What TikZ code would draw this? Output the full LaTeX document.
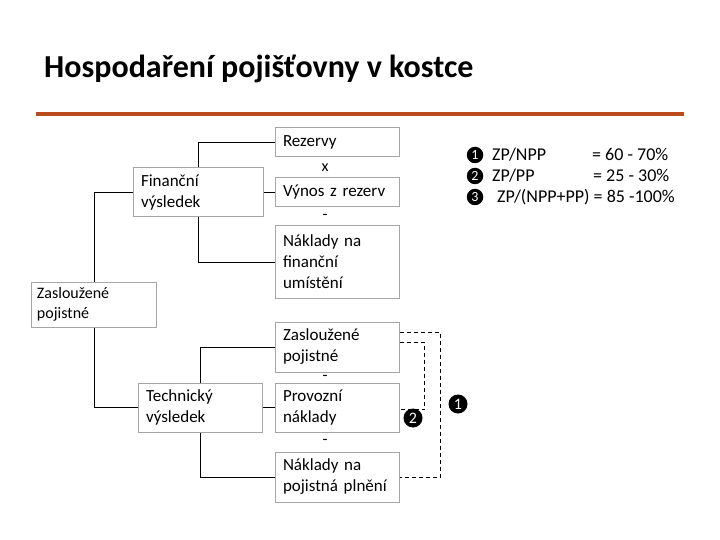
\documentclass[tikz,border=0pt]{standalone}
\usepackage{fontspec}
\setmainfont{Carlito}
\usetikzlibrary{positioning,calc}
\definecolor{rust}{HTML}{BB4A1C}
\definecolor{boxgray}{HTML}{A6A6A6}

\begin{document}
\begin{tikzpicture}[x=1bp,y=-1bp,
  box/.style={draw=boxgray,line width=1bp,align=left,text width=108bp,inner xsep=8bp,inner ysep=0pt,
    minimum width=124bp,font=\fontsize{17bp}{21bp}\selectfont},
  op/.style={inner sep=0pt,font=\fontsize{16bp}{18bp}\selectfont},
  numdot/.style={circle,fill=black,text=white,inner sep=0pt,minimum size=19bp,font=\fontsize{16bp}{16bp}\selectfont},
  smalldot/.style={numdot,minimum size=16.5bp,font=\fontsize{14bp}{14bp}\selectfont},
  legend/.style={anchor=base west,inner sep=0pt,font=\fontsize{18bp}{20bp}\selectfont}]
\useasboundingbox[fill=white] (0,0) rectangle (720,540);
\node[anchor=base west,inner sep=0pt,font=\bfseries\fontsize{32bp}{36bp}\selectfont] (title) at (44,78) {Hospodaření pojišťovny v kostce};
\draw[rust,line width=4bp] (36,114) -- (684,114);
% financni cast
\node[box,minimum height=29bp] (rez) at (337,142.5) {Rezervy};
\node[box,minimum height=29bp] (vyn) at (337,192.5) {Výnos z rezerv};
\node[box,minimum height=72bp] (nak) at (337,262) {Náklady na\\finanční\\umístění};
\node[box,text width=114bp,minimum width=130bp,minimum height=49bp] (fin) at (198,192.5) {Finanční\\výsledek};
\node[box,text width=114bp,inner xsep=5bp,minimum height=45bp,font=\fontsize{16bp}{20bp}\selectfont] (zp1) at (94,304.5) {Zasloužené\\pojistné};
% technicka cast
\node[box,minimum height=50bp] (zp2) at (337,347) {Zasloužené\\pojistné};
\node[box,minimum height=49bp] (prov) at (337,407.5) {Provozní\\náklady};
\node[box,minimum height=50bp] (pln) at (337,477) {Náklady na\\pojistná plnění};
\node[box,minimum height=49bp] (tech) at (200,407.5) {Technický\\výsledek};
% operatory
\node[op] (o1) at ($(rez.south)!0.5!(vyn.north)+(-12,0)$) {x};
\node[op] (o2) at ($(vyn.south)!0.5!(nak.north)+(-12,0)$) {-};
\node[op] (o3) at ($(zp2.south)!0.5!(prov.north)+(-12,0)$) {-};
\node[op] (o4) at ($(prov.south)!0.5!(pln.north)+(-12,0)$) {-};
% spojnice
\draw (fin.north) |- (rez.west);
\draw (fin.east) -- (vyn.west);
\draw (fin.south) |- (nak.west);
\draw (zp1.north) |- (fin.west);
\draw (zp1.south) |- (tech.west);
\draw (tech.north) |- (zp2.west);
\draw (tech.east) -- (prov.west);
\draw (tech.south) |- (pln.west);
\draw[dash pattern=on 4bp off 3bp] ([yshift=-11bp]zp2.north east) -- ++(41,0) |- (pln.east);
\draw[dash pattern=on 4bp off 3bp] ([yshift=-21bp]zp2.north east) -- ++(25,0) |- ([yshift=-2bp]prov.east);
\node[numdot] (n2) at (413,418) {2};
\node[numdot] (n1) at (458,404) {1};
% legenda
\node[smalldot] (l1) at (475,155) {1};
\node[smalldot] (l2) at (475,176) {2};
\node[smalldot] (l3) at (475,197) {3};
\node[legend] (t1) at (492,161) {ZP/NPP};
\node[legend] (v1) at (592,161) {= 60 - 70\%};
\node[legend] (t2) at (492,182) {ZP/PP};
\node[legend] (v2) at (593,182) {= 25 - 30\%};
\node[legend] (t3) at (497,203) {ZP/(NPP+PP) = 85 -100\%};
\end{tikzpicture}
\end{document}
